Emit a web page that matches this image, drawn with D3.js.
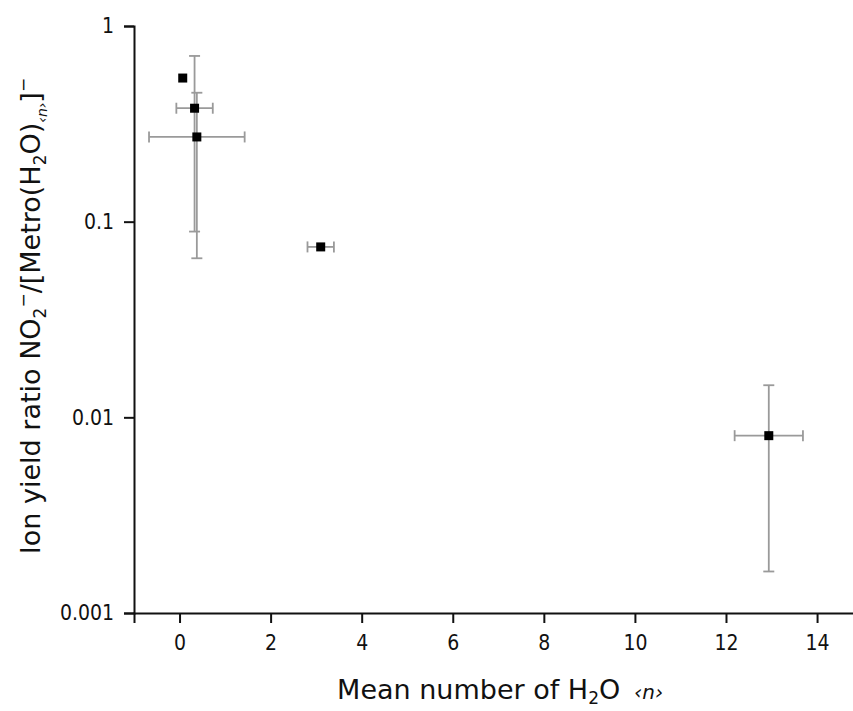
<!DOCTYPE html>
<html>
<head>
<meta charset="utf-8">
<script src="https://cdn.jsdelivr.net/npm/d3@7"></script>
<style>
  body { margin: 0; background: #fff; }
  text { font-family: "DejaVu Sans Condensed", "DejaVu Sans", sans-serif; fill: #111; }
</style>
</head>
<body>
<div id="chart"></div>
<script>
// values
var meanN     = [0.07, 0.33, 0.38, 3.10, 12.94];
var ratio     = [0.542, 0.380, 0.271, 0.0743, 0.00806];
var nErr      = [0, 0.40, 1.05, 0.29, 0.75];
var ratioLow  = [0, 0.291, 0.206, 0, 0.00643];
var ratioHigh = [0, 0.323, 0.185, 0, 0.00653];

var xMajor = [0, 2, 4, 6, 8, 10, 12, 14];
var xMinor = [-1, 1, 3, 5, 7, 9, 11, 13, 15];
var yMajor = [1, 0.1, 0.01, 0.001];
var yTickLabels = ['1', '0.1', '0.01', '0.001'];

var w = 853,
    h = 711;

var svg = d3.select('#chart').append('svg')
    .attr('width', w)
    .attr('height', h);

var x = d3.scaleLinear().domain([-1, 15]).range([134, 862.6]);
var y = d3.scaleLog().domain([0.001, 1]).range([613, 26]);

// minor ticks on the log axis: 2..9 of each decade
var yMinor = [];
[0.001, 0.01, 0.1].forEach(function(d) {
  for (var k = 2; k <= 9; k++) { yMinor.push(d * k); }
});

var pts = meanN.map(function(d, i) {
  return { x: d, y: ratio[i], xe: nErr[i], lo: ratioLow[i], hi: ratioHigh[i] };
});

// error bars
var eb = svg.append('g')
    .attr('stroke', '#9a9a9a')
    .attr('stroke-width', 1.8)
    .attr('fill', 'none');

pts.forEach(function(d) {
  var cx = x(d.x), cy = y(d.y);
  if (d.xe > 0) {
    eb.append('line').attr('x1', x(d.x - d.xe)).attr('x2', x(d.x + d.xe)).attr('y1', cy).attr('y2', cy);
    eb.append('line').attr('x1', x(d.x - d.xe)).attr('x2', x(d.x - d.xe)).attr('y1', cy - 5.5).attr('y2', cy + 5.5);
    eb.append('line').attr('x1', x(d.x + d.xe)).attr('x2', x(d.x + d.xe)).attr('y1', cy - 5.5).attr('y2', cy + 5.5);
  }
  if (d.lo > 0 || d.hi > 0) {
    var y0 = y(d.y - d.lo), y1 = y(d.y + d.hi);
    eb.append('line').attr('x1', cx).attr('x2', cx).attr('y1', y0).attr('y2', y1);
    eb.append('line').attr('x1', cx - 5.5).attr('x2', cx + 5.5).attr('y1', y0).attr('y2', y0);
    eb.append('line').attr('x1', cx - 5.5).attr('x2', cx + 5.5).attr('y1', y1).attr('y2', y1);
  }
});

// markers
svg.selectAll('.pt')
    .data(pts)
    .enter()
    .append('rect')
    .attr('class', 'pt')
    .attr('x', function(d) { return x(d.x) - 4.5; })
    .attr('y', function(d) { return y(d.y) - 4.5; })
    .attr('width', 9)
    .attr('height', 9)
    .attr('fill', '#000');

// x axis
var xAx = svg.append('g').attr('transform', 'translate(0,613)');
xAx.call(d3.axisBottom(x).tickValues(xMinor).tickSize(5).tickFormat(''));
xAx.call(d3.axisBottom(x).tickValues(xMajor).tickSize(10).tickPadding(12).tickFormat(d3.format('d')));
xAx.selectAll('path').attr('stroke', '#111').attr('stroke-width', 2);
xAx.selectAll('line').attr('stroke', '#111').attr('stroke-width', 2);
xAx.selectAll('text').attr('font-size', 21).style('font-family', '"DejaVu Sans Condensed", sans-serif');

// y axis
var yAx = svg.append('g').attr('transform', 'translate(134,0)');
yAx.call(d3.axisLeft(y).tickValues(yMinor).tickSize(5).tickFormat(''));
yAx.call(d3.axisLeft(y).tickValues(yMajor).tickSize(10).tickPadding(10)
    .tickFormat(function(d, i) { return yTickLabels[i]; }));
yAx.selectAll('path').attr('stroke', '#111').attr('stroke-width', 2);
yAx.selectAll('line').attr('stroke', '#111').attr('stroke-width', 2);
yAx.selectAll('text').attr('font-size', 21).style('font-family', '"DejaVu Sans Condensed", sans-serif');

// x title
var xt = svg.append('text')
    .attr('x', 500)
    .attr('y', 699)
    .attr('text-anchor', 'middle')
    .attr('font-size', 27)
    .style('font-family', '"DejaVu Sans", sans-serif');
xt.append('tspan').text('Mean number of H');
xt.append('tspan').attr('font-size', 17).attr('dy', 5).text('2');
xt.append('tspan').attr('dy', -5).text('O');
xt.append('tspan').attr('font-size', 20).attr('font-style', 'italic').attr('dx', 14).text('‹n›');

// y title
var yt = svg.append('text')
    .attr('transform', 'translate(40,316) rotate(-90)')
    .attr('text-anchor', 'middle')
    .attr('font-size', 27)
    .style('font-family', '"DejaVu Sans", sans-serif');
yt.append('tspan').text('Ion yield ratio NO');
yt.append('tspan').attr('font-size', 17).attr('dy', 6).text('2');
yt.append('tspan').attr('font-size', 17).attr('dy', -17).text('−');
yt.append('tspan').attr('dy', 11).text('/[Metro(H');
yt.append('tspan').attr('font-size', 17).attr('dy', 6).text('2');
yt.append('tspan').attr('dy', -6).text('O)');
yt.append('tspan').attr('font-size', 14).attr('font-style', 'italic').attr('dy', 7).text('‹n›');
yt.append('tspan').attr('dy', -7).text(']');
yt.append('tspan').attr('font-size', 17).attr('dy', -11).text('−');
</script>
</body>
</html>
